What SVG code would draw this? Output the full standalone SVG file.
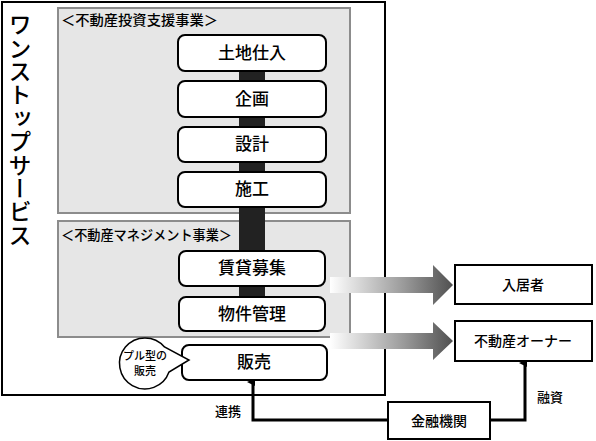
<svg xmlns="http://www.w3.org/2000/svg" width="596" height="441" viewBox="0 0 596 441">
<style>
.t{font-family:"Noto Sans CJK JP","Noto Sans",sans-serif;fill:#000;font-weight:500}
.node{fill:#fff;stroke:#000;stroke-width:2}
.sec{fill:#e6e6e6;stroke:#8c8c8c;stroke-width:2}
.box{fill:#fff;stroke:#000;stroke-width:2}
.conn{fill:none;stroke:#000;stroke-width:3}
</style>
<defs>
<linearGradient id="ag" gradientUnits="userSpaceOnUse" x1="330" y1="0" x2="453" y2="0">
<stop offset="0" stop-color="#ffffff"/>
<stop offset="0.6" stop-color="#9a9a9a"/>
<stop offset="1" stop-color="#505050"/>
</linearGradient>
<marker id="ah" markerWidth="8" markerHeight="8" refX="4" refY="6" orient="auto-start-reverse" markerUnits="userSpaceOnUse" viewBox="0 0 8 8">
<path d="M0,8 L4,0 L8,8 Z" fill="#000"/>
</marker>
</defs>
<rect width="596" height="441" fill="#fff"/>
<g id="outer">
<rect x="2" y="2" width="383" height="393" fill="#fff" stroke="#000" stroke-width="2"/>
<text class="t" x="20" y="13" font-size="23" style="writing-mode:vertical-rl" letter-spacing="0.4">ワンストップサービス</text>
</g>
<g id="sec1">
<rect class="sec" x="58" y="8" width="292" height="205"/>
<text class="t" x="61" y="25" font-size="14" textLength="157" lengthAdjust="spacingAndGlyphs">＜不動産投資支援事業＞</text>
</g>
<g id="sec2">
<rect class="sec" x="58" y="221" width="292" height="116"/>
<text class="t" x="61" y="240" font-size="14" textLength="171" lengthAdjust="spacingAndGlyphs">＜不動産マネジメント事業＞</text>
</g>
<g id="connectors">
<rect x="239" y="50" width="26" height="260" fill="#222"/>
<path d="M330,277 H433 V265 L453,285 L433,305 V293 H330 Z" fill="url(#ag)"/>
<path d="M330,333 H433 V322 L453,341 L433,360 V349 H330 Z" fill="url(#ag)"/>
<path class="conn" d="M388,420 H253 V382" marker-end="url(#ah)"/>
<path class="conn" d="M490,420 H525 V363" marker-end="url(#ah)"/>
<text class="t" x="228" y="416" font-size="13" text-anchor="middle">連携</text>
<text class="t" x="550" y="402" font-size="13" text-anchor="middle">融資</text>
</g>
<g id="n1"><rect class="node" x="178" y="35" width="148" height="36" rx="7"/><text class="t" x="252" y="59" font-size="17" text-anchor="middle">土地仕入</text></g>
<g id="n2"><rect class="node" x="178" y="81" width="148" height="36" rx="7"/><text class="t" x="252" y="105" font-size="17" text-anchor="middle">企画</text></g>
<g id="n3"><rect class="node" x="178" y="127" width="148" height="35" rx="7"/><text class="t" x="252" y="150" font-size="17" text-anchor="middle">設計</text></g>
<g id="n4"><rect class="node" x="178" y="172" width="148" height="35" rx="7"/><text class="t" x="252" y="195" font-size="17" text-anchor="middle">施工</text></g>
<g id="n5"><rect class="node" x="179" y="251" width="146" height="35" rx="7"/><text class="t" x="252" y="274" font-size="17" text-anchor="middle">賃貸募集</text></g>
<g id="n6"><rect class="node" x="179" y="297" width="146" height="34" rx="7"/><text class="t" x="252" y="320" font-size="17" text-anchor="middle">物件管理</text></g>
<g id="n7"><rect class="node" x="182" y="345" width="145" height="35" rx="7"/><text class="t" x="254" y="368" font-size="17" text-anchor="middle">販売</text></g>
<g id="bubble">
<path d="M164.5,347 A25.5,25.5 0 1 0 169,372 L189,360 Z" fill="#fff" stroke="#000" stroke-width="1.5" stroke-linejoin="miter"/>
<text class="t" x="145" y="360" font-size="11" text-anchor="middle">プル型の</text>
<text class="t" x="145" y="375" font-size="11" text-anchor="middle">販売</text>
</g>
<g id="n8"><rect class="box" x="455" y="265" width="137" height="39"/><text class="t" x="523" y="290" font-size="14" text-anchor="middle">入居者</text></g>
<g id="n9"><rect class="box" x="455" y="321" width="137" height="40"/><text class="t" x="523" y="346" font-size="14" text-anchor="middle">不動産オーナー</text></g>
<g id="n10"><rect class="box" x="388" y="402" width="102" height="37"/><text class="t" x="439" y="426" font-size="14" text-anchor="middle">金融機関</text></g>
</svg>
